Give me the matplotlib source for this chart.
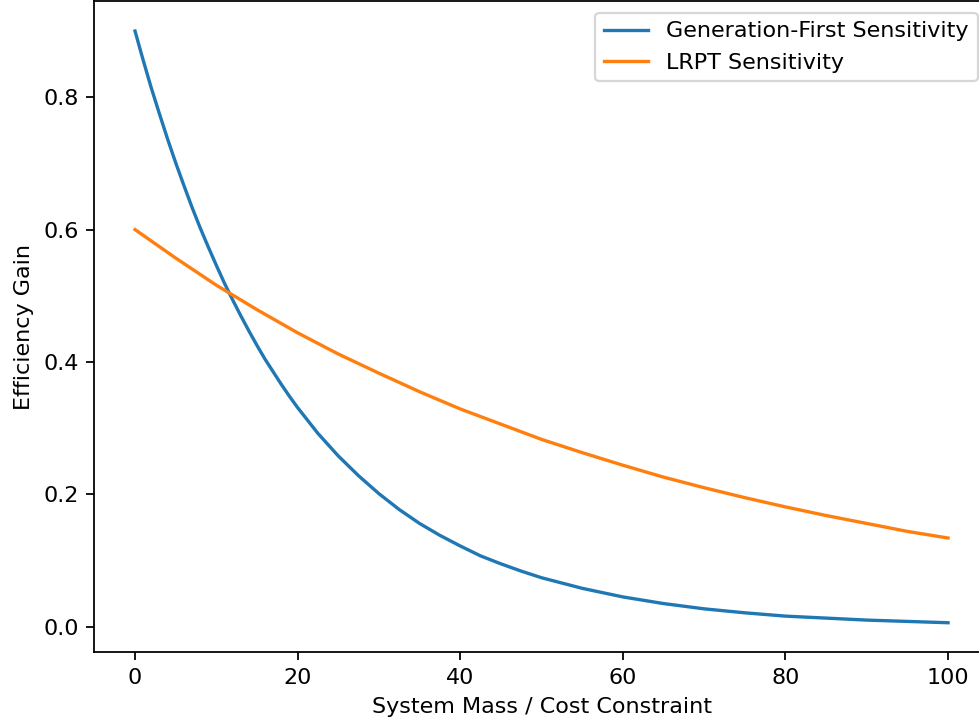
# efficiency gain vs system mass / cost constraint

import matplotlib
matplotlib.use("Agg")
import matplotlib.pyplot as plt

# values
gen_x = [0, 1, 2, 3, 4, 5, 6, 7, 8, 9, 10, 11, 12, 13, 14, 15, 16, 17, 18, 19,
         20, 22.5, 25, 27.5, 30, 32.5, 35, 37.5, 40, 42.5, 45, 47.5, 50, 55,
         60, 65, 70, 75, 80, 85, 90, 95, 100]
gen_y = [0.900, 0.856, 0.814, 0.775, 0.737, 0.701, 0.667, 0.634, 0.603, 0.574,
         0.546, 0.519, 0.494, 0.470, 0.447, 0.425, 0.404, 0.385, 0.366, 0.348,
         0.331, 0.292, 0.258, 0.228, 0.201, 0.177, 0.156, 0.138, 0.122, 0.107,
         0.095, 0.084, 0.074, 0.058, 0.045, 0.035, 0.027, 0.021, 0.016, 0.013,
         0.010, 0.008, 0.006]

lrpt_x = [0, 5, 10, 15, 20, 25, 30, 35, 40, 45, 50, 55, 60, 65, 70, 75, 80,
          85, 90, 95, 100]
lrpt_y = [0.600, 0.557, 0.516, 0.479, 0.444, 0.412, 0.383, 0.355, 0.329, 0.306,
          0.283, 0.263, 0.244, 0.226, 0.210, 0.195, 0.181, 0.168, 0.156, 0.144,
          0.134]

fig, ax = plt.subplots(figsize=(979 / 160, 724 / 160), dpi=160)
# the reference is cropped on the right, the right spine sits just outside
fig.subplots_adjust(left=0.0964, right=1.0099, top=0.998, bottom=0.099)

ax.plot(gen_x, gen_y, color="#1f77b4", linewidth=1.5,
        label="Generation-First Sensitivity")
ax.plot(lrpt_x, lrpt_y, color="#ff7f0e", linewidth=1.5,
        label="LRPT Sensitivity")

ax.set_xlabel("System Mass / Cost Constraint")
ax.set_ylabel("Efficiency Gain")
ax.legend(loc="upper right")

fig.savefig("out.png", dpi=160)
